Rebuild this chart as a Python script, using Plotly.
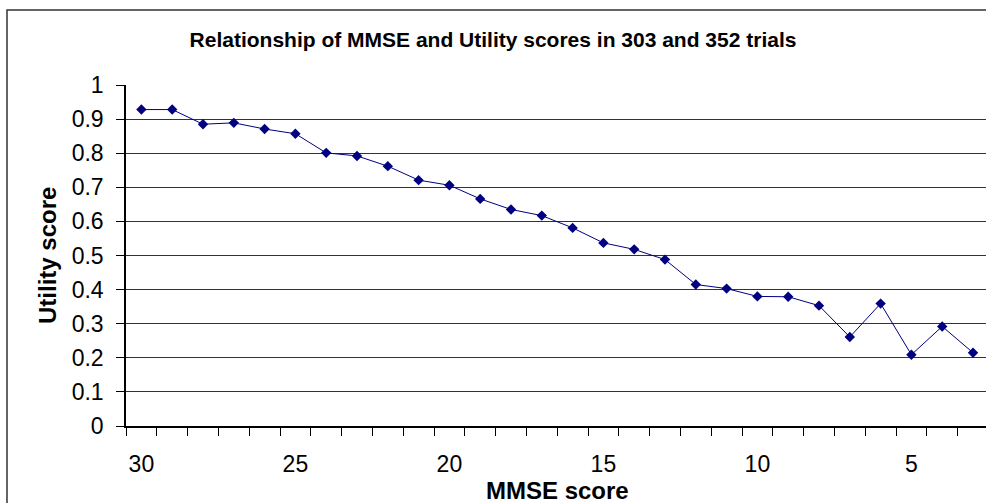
import plotly.graph_objects as go

mmse = [30, 29, 28, 27, 26, 25, 24, 23, 22, 21, 20, 19, 18, 17, 16, 15, 14, 13, 12, 11, 10, 9, 8, 7, 6, 5, 4, 3]
utility = [0.928, 0.928, 0.885, 0.889, 0.871, 0.857, 0.801, 0.792, 0.762, 0.721, 0.706, 0.666,
           0.635, 0.617, 0.581, 0.537, 0.518, 0.488, 0.415, 0.403, 0.380, 0.379, 0.353, 0.261,
           0.359, 0.209, 0.292, 0.215]
x_tick_vals = [30, 25, 20, 15, 10, 5]
y_tick_vals = [0, 0.1, 0.2, 0.3, 0.4, 0.5, 0.6, 0.7, 0.8, 0.9, 1]
y_tick_text = ["0", "0.1", "0.2", "0.3", "0.4", "0.5", "0.6", "0.7", "0.8", "0.9", "1"]

FONT = "Arial, Liberation Sans, sans-serif"
NAVY = "#000080"

fig = go.Figure()
fig.add_trace(go.Scatter(
    x=mmse, y=utility, mode="lines+markers",
    line=dict(color=NAVY, width=1),
    marker=dict(symbol="diamond", size=8, color=NAVY),
    showlegend=False, hoverinfo="x+y",
))

L, T, W, H = 126, 85, 986, 503
PB = 426
plot_w = W - L
plot_h = PB - T

fig.update_layout(
    width=W, height=H,
    margin=dict(l=L, r=0, t=T, b=H - PB, pad=0),
    paper_bgcolor="white", plot_bgcolor="white",
    font=dict(family=FONT, color="black"),
    title=dict(text="<b>Relationship of MMSE and Utility scores in 303 and 352 trials</b>",
               x=0.5, xref="container", xanchor="center",
               y=1 - 40 / H, yref="container", yanchor="middle",
               font=dict(size=21, family=FONT, color="black")),
    xaxis=dict(
        range=[30.5, 30.5 - plot_w / 30.8],
        tickmode="array", tickvals=x_tick_vals, ticktext=[str(v) for v in x_tick_vals],
        ticks="", tickfont=dict(size=23, family=FONT, color="black"),
        ticklabelstandoff=17,
        minor=dict(tickmode="linear", tick0=0.5, dtick=1, ticks="outside", ticklen=8,
                   tickcolor="black", tickwidth=1, showgrid=False),
        showgrid=False, zeroline=False,
        showline=True, linecolor="black", linewidth=1.5,
    ),
    yaxis=dict(
        range=[0, 1],
        tickmode="array", tickvals=y_tick_vals, ticktext=y_tick_text,
        ticks="outside", ticklen=8, tickcolor="black", tickwidth=1,
        tickfont=dict(size=23, family=FONT, color="black"),
        ticklabelstandoff=8,
        showgrid=True, gridcolor="#333333", gridwidth=1,
        zeroline=False, showline=True, linecolor="black", linewidth=1.5,
    ),
)

# Axis titles
fig.add_annotation(text="<b>Utility score</b>", textangle=-90,
                   xref="paper", yref="paper",
                   x=(47 - L) / plot_w, y=(PB - 256) / plot_h,
                   showarrow=False, xanchor="center", yanchor="middle",
                   font=dict(size=24, family=FONT, color="black"))
fig.add_annotation(text="<b>MMSE score</b>",
                   xref="paper", yref="paper",
                   x=(557 - L) / plot_w, y=(PB - 490) / plot_h,
                   showarrow=False, xanchor="center", yanchor="middle",
                   font=dict(size=24, family=FONT, color="black"))

# Outer chart border
fig.add_shape(type="rect", xref="paper", yref="paper",
              x0=(7 - L) / plot_w, x1=(1000 - L) / plot_w,
              y0=(PB - 520) / plot_h, y1=(PB - 10) / plot_h,
              line=dict(color="#333333", width=1.5), fillcolor="rgba(0,0,0,0)",
              layer="below")

fig.write_html("out.html", config={"displayModeBar": False},
               post_script="document.body.style.margin='0';document.body.style.overflow='hidden';")
